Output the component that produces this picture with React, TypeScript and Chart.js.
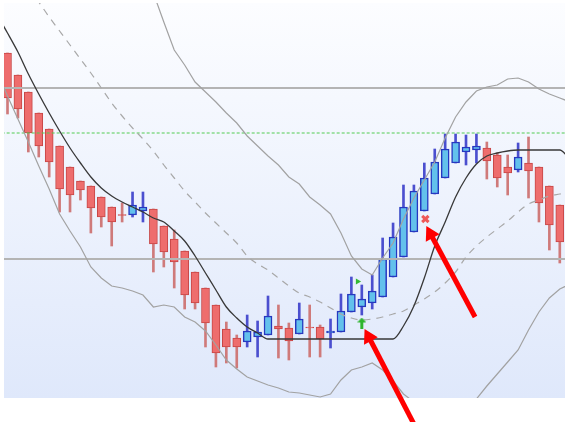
import React, { useEffect, useRef } from "react";
import { Chart, registerables } from "chart.js";

Chart.register(...registerables);

// Candles (price units)
const opens = [345, 323, 306, 285, 269, 252, 231, 217, 212, 201, 191, 183.5, 183, 187, 189, 172, 159, 147, 126, 110, 93, 69, 60, 56, 61, 63, 72, 70, 64, 71, 71, 65, 66, 86, 91, 95, 101, 121, 141, 166, 187, 204, 220, 235, 246, 248, 250, 243, 231, 228, 235, 231, 212, 193];
const highs = [345, 323, 306, 285, 269, 252, 231, 217, 212, 201, 191, 195, 206, 206, 189, 172, 168, 147, 126, 110, 93, 76, 63, 83, 77, 102, 93, 75, 95, 93, 73, 79, 104, 121, 113, 123, 160, 175, 213, 213, 235, 249, 264, 264, 263, 264, 256, 245, 243, 255, 261, 231, 212, 193];
const lows = [284, 280, 246, 241, 221, 186, 186, 198, 165, 171, 152, 176, 181, 176, 126, 131, 110, 89, 89, 51, 31, 35, 30, 51, 41, 63, 40, 38, 64, 41, 41, 50, 66, 86, 83, 89, 101, 121, 141, 166, 187, 204, 220, 235, 233, 235, 219, 211, 203, 226, 200, 176, 148, 135];
const closes = [300, 289, 265, 252, 236, 209, 203, 208, 190, 181, 176, 182.5, 193, 191, 154, 146, 136, 103, 95, 75, 45, 51, 51, 67, 66, 82, 69, 57, 79, 70, 59, 67, 87, 104, 99, 107, 139, 161, 191, 207, 220, 236, 249, 256, 251, 252, 237, 220, 225, 241, 227, 195, 173, 156];

// Indicator lines, one value per bar from index -1 to 54
const blackLine = [383, 365, 346, 324, 304, 285, 267, 250, 235, 221, 210, 202, 196, 191, 186, 180, 176, 167, 157, 142, 125, 108, 91, 80, 71, 65, 59, 59, 59, 59, 59, 59, 59, 59, 59, 59, 59, 59, 59, 72, 92, 120, 152, 176, 201, 220, 234, 242, 245, 247, 248, 248, 248, 248, 248, 238];
const upperBand = [null, null, null, null, null, null, null, null, null, null, null, null, null, 461, 433, 405, 376, 348, 333, 316, 306, 296, 285, 275, 262, 252, 242, 233, 221, 214, 201, 193, 184, 165, 142, 129, 123, 140, 155, 179, 200, 218, 236, 260, 281, 296, 307, 311, 313, 319, 320, 316, 309, 304, 300, 296];
const lowerBand = [326, 302, 279, 256, 232, 209, 184, 167, 151, 131, 120, 112, 110, 107, 103, 91, 93, 91, 81, 76, 67, 53, 38, 29, 21, 17, 13, 10, 6, 5, 3, 1, 4, 18, 28, 31, 35, 28, 17, 4, -4, -17, -27, -32, -27, -14, -1, 12, 24, 36, 48, 68, 86, 100, 109, 114];
const middleBand = [null, null, null, 410, 396, 381, 367, 353, 339, 325, 310, 295, 282, 270, 259, 247, 233, 220, 207, 196, 185, 175, 165, 155, 142, 134, 128, 120, 112, 105, 101, 96, 90, 84, 80, 78, 79, 81, 84, 87, 93, 99, 106, 115, 126, 141, 152, 161, 169, 177, 186, 194, 198, 202, 204, 206];

// Horizontal levels
const grayLevels = [310, 139];
const greenLevel = 265;

// Signals
const signalUp = [{ x: 34, y: 75 }];
const signalTri = [{ x: 33.6, y: 116.5 }];
const signalCross = [{ x: 40.1, y: 179 }];
const arrowA = [{ x: 39.1, y: -28 }, { x: 34.67, y: 61 }];
const arrowB = [{ x: 44.87, y: 81 }, { x: 40.6, y: 164 }];

const X_MIN = -0.336;
const X_MAX = 53.5;

function makeUpArrow() {
  const c = document.createElement("canvas");
  c.width = 9;
  c.height = 11;
  const g = c.getContext("2d")!;
  g.fillStyle = "#2fb52f";
  g.beginPath();
  g.moveTo(4.5, 0);
  g.lineTo(9, 5);
  g.lineTo(0, 5);
  g.closePath();
  g.fill();
  g.fillRect(3, 5, 3, 6);
  return c;
}

const bgPlugin = {
  id: "bgGradient",
  beforeDatasetsDraw(chart: any) {
    const { ctx, chartArea } = chart;
    const { left, top, right, bottom } = chartArea;
    const g = ctx.createLinearGradient(0, top, 0, bottom);
    g.addColorStop(0, "#fcfdff");
    g.addColorStop(1, "#dfe8fb");
    ctx.save();
    ctx.fillStyle = g;
    ctx.fillRect(left, top, right - left, bottom - top);
    ctx.restore();
  },
};

export default function App() {
  const ref = useRef<HTMLCanvasElement>(null);
  useEffect(() => {
    document.body.style.margin = "0";
    const idx = opens.map((_, i) => i);
    const lineIdx = blackLine.map((_, k) => k - 1);
    const isUp = (i: number) => closes[i] >= opens[i];
    const toPts = (arr: (number | null)[]) => arr.map((v, k) => ({ x: lineIdx[k], y: v }));
    const level = (v: number) => [{ x: -2, y: v }, { x: 56, y: v }];

    const lineBase = { type: "line" as const, pointRadius: 0, fill: false };

    const chart = new Chart(ref.current!, {
      type: "line",
      data: {
        datasets: [
          {
            type: "bar",
            data: idx.map((i) => ({ x: i, y: [lows[i], highs[i]] })),
            backgroundColor: idx.map((i) => (isUp(i) ? "#4b4fcf" : "#cf7a7a")),
            borderWidth: 0,
            grouped: false,
            maxBarThickness: 2,
            categoryPercentage: 1,
            barPercentage: 1,
            order: 31,
          } as any,
          {
            type: "bar",
            data: idx.map((i) => ({ x: i, y: [opens[i], closes[i]] })),
            backgroundColor: idx.map((i) => (isUp(i) ? "#63c1ec" : "#ee6d6d")),
            borderColor: idx.map((i) => (isUp(i) ? "#2638c0" : "#c74646")),
            borderWidth: idx.map((i) => (isUp(i) ? 1.5 : 1)),
            borderSkipped: false,
            grouped: false,
            maxBarThickness: 8,
            categoryPercentage: 1,
            barPercentage: 1,
            order: 30,
          } as any,
          ...grayLevels.map((v) => ({
            ...lineBase,
            data: level(v),
            borderColor: "#b4b4b4",
            borderWidth: 2,
            order: 12,
          })),
          {
            ...lineBase,
            data: level(greenLevel),
            borderColor: "#52cc52",
            borderWidth: 1.2,
            borderDash: [3, 2],
            order: 11,
          },
          {
            ...lineBase,
            data: toPts(upperBand),
            borderColor: "#a2a2a2",
            borderWidth: 1.2,
            tension: 0,
            order: 10,
          },
          {
            ...lineBase,
            data: toPts(lowerBand),
            borderColor: "#a2a2a2",
            borderWidth: 1.2,
            tension: 0,
            order: 10,
          },
          {
            ...lineBase,
            data: toPts(middleBand),
            borderColor: "#a8a8a8",
            borderWidth: 1.2,
            borderDash: [7, 6],
            cubicInterpolationMode: "monotone",
            order: 10,
          },
          {
            ...lineBase,
            data: toPts(blackLine),
            borderColor: "#383838",
            borderWidth: 1.3,
            cubicInterpolationMode: "monotone",
            order: 9,
          },
          {
            type: "line",
            data: signalUp,
            showLine: false,
            pointStyle: makeUpArrow(),
            pointRadius: 5,
            order: 3,
          } as any,
          {
            type: "line",
            data: signalTri,
            showLine: false,
            pointStyle: "triangle",
            pointRotation: 90,
            pointRadius: 3.5,
            pointBackgroundColor: "#33b833",
            pointBorderColor: "#33b833",
            pointBorderWidth: 0,
            order: 3,
          } as any,
          {
            type: "line",
            data: signalCross,
            showLine: false,
            pointStyle: "crossRot",
            pointRadius: 4.5,
            pointBorderColor: "#ee5858",
            pointBorderWidth: 3,
            order: 3,
          } as any,
          ...[arrowA, arrowB].map((a) => ({
            type: "line" as const,
            data: a,
            borderColor: "#ff0000",
            borderWidth: 5,
            borderCapStyle: "butt",
            pointRadius: [0, 9],
            pointStyle: "triangle",
            pointRotation: -28,
            pointBackgroundColor: "#ff0000",
            pointBorderColor: "#ff0000",
            pointBorderWidth: 0,
            clip: false,
            order: 1,
          })) as any,
        ],
      },
      options: {
        responsive: false,
        devicePixelRatio: 1,
        animation: false,
        events: [],
        layout: { autoPadding: false, padding: { left: 4, top: 3, right: 3, bottom: 24 } },
        plugins: { legend: { display: false }, tooltip: { enabled: false } },
        scales: {
          x: { type: "linear", min: X_MIN, max: X_MAX, display: false, offset: false },
          y: { type: "linear", min: 0, max: 395, display: false },
        },
      },
      plugins: [bgPlugin],
    });
    return () => chart.destroy();
  }, []);
  return (
    <div style={{ width: 568, height: 422 }}>
      <canvas ref={ref} width={568} height={422} style={{ display: "block" }} />
    </div>
  );
}
